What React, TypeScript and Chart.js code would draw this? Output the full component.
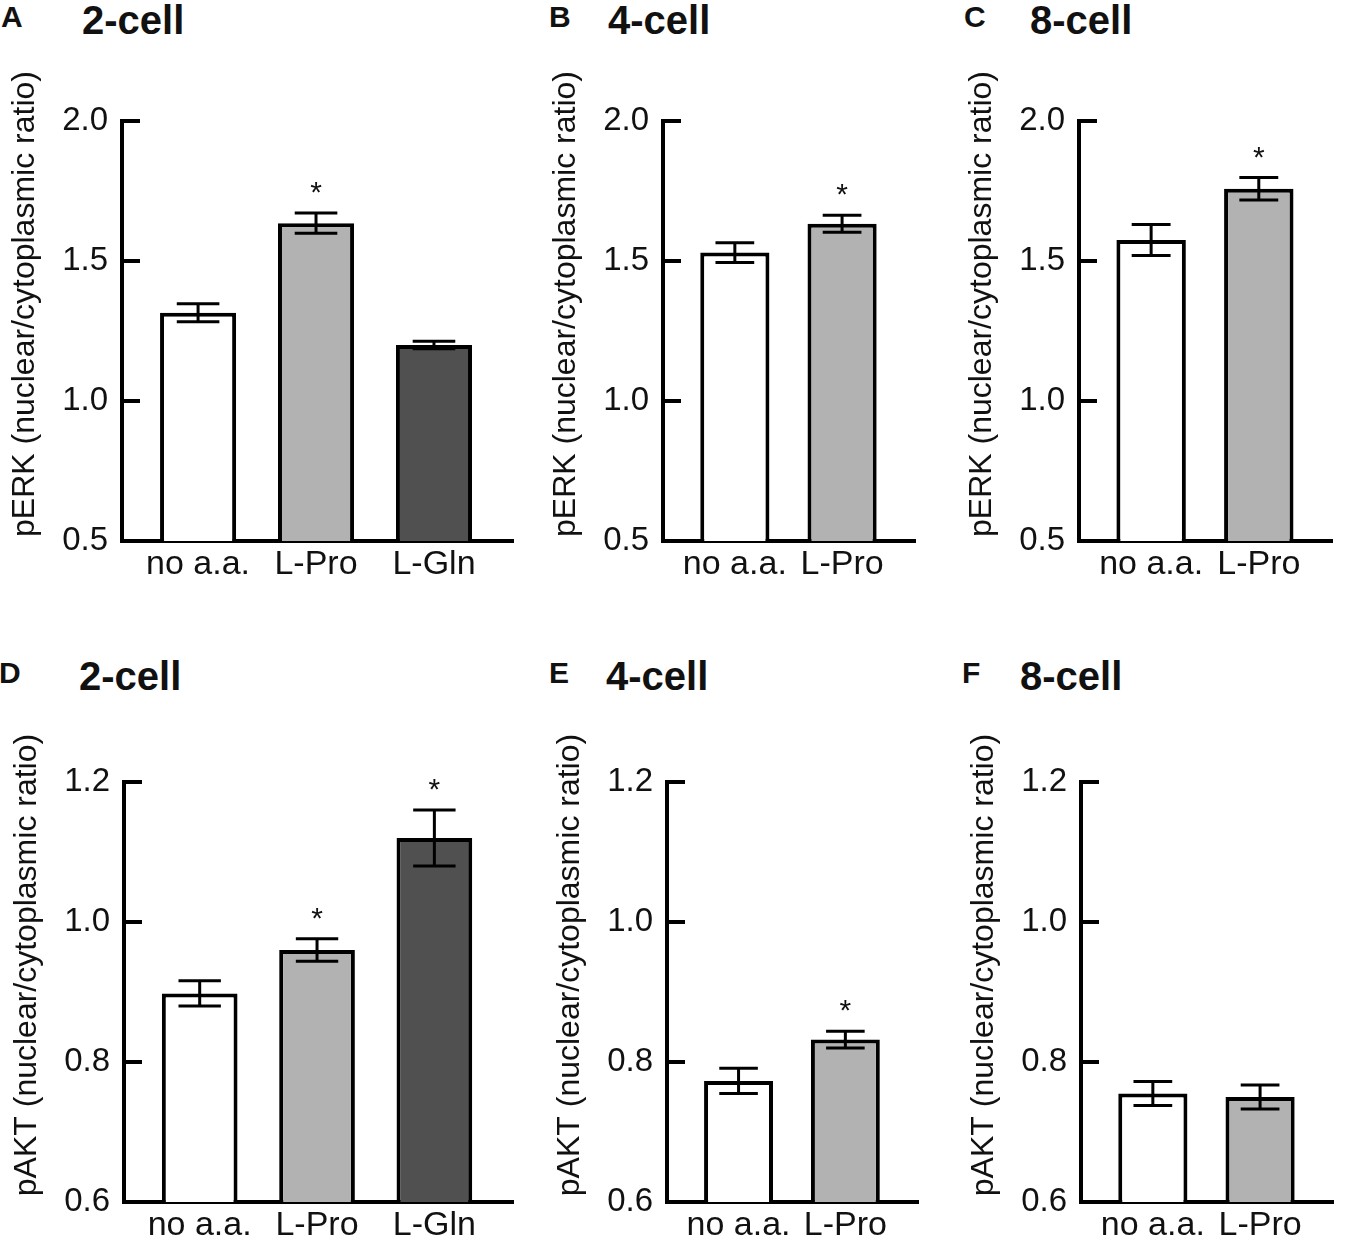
import React, { useEffect, useRef } from "react";
import { Chart, registerables } from "chart.js";

Chart.register(...registerables);
Chart.defaults.font.family = '"Liberation Sans", Arial, sans-serif';

// categories and colours
const categories3 = ["no a.a.", "L-Pro", "L-Gln"];
const categories2 = ["no a.a.", "L-Pro"];
const barColors = ["#ffffff", "#b2b2b2", "#505050"];

// y tick values
const erkTicks = [0.5, 1.0, 1.5, 2.0];
const aktTicks = [0.6, 0.8, 1.0, 1.2];

// pERK, mean / sem / significance
const erk2Mean = [1.315, 1.635, 1.2];
const erk2Sem = [0.032, 0.036, 0.013];
const erk2Sig = [false, true, false];
const erk4Mean = [1.53, 1.633];
const erk4Sem = [0.035, 0.03];
const erk4Sig = [false, true];
const erk8Mean = [1.575, 1.758];
const erk8Sem = [0.055, 0.04];
const erk8Sig = [false, true];

// pAKT, mean / sem / significance
const akt2Mean = [0.898, 0.96, 1.12];
const akt2Sem = [0.018, 0.016, 0.04];
const akt2Sig = [false, true, true];
const akt4Mean = [0.773, 0.832];
const akt4Sem = [0.018, 0.012];
const akt4Sig = [false, true];
const akt8Mean = [0.755, 0.75];
const akt8Sem = [0.017, 0.017];
const akt8Sig = [false, false];

const FONT = '"Liberation Sans", Arial, sans-serif';

type Panel = {
  letter: string;
  title: string;
  yLabel: string;
  categories: string[];
  mean: number[];
  sem: number[];
  sig: boolean[];
  ticks: number[];
  left: number;
  top: number;
  width: number;
  height: number;
  padTop: number;
  letterX: number;
  titleX: number;
  headTop: number;
};

const row1 = { top: 0, height: 609, padTop: 121, headTop: 0 };
const row2 = { top: 660, height: 610, padTop: 122, headTop: 656 };

const panels: Panel[] = [
  { letter: "A", title: "2-cell", yLabel: "pERK (nuclear/cytoplasmic ratio)", categories: categories3, mean: erk2Mean, sem: erk2Sem, sig: erk2Sig, ticks: erkTicks, left: 0, width: 521, letterX: 1, titleX: 82, ...row1 },
  { letter: "B", title: "4-cell", yLabel: "pERK (nuclear/cytoplasmic ratio)", categories: categories2, mean: erk4Mean, sem: erk4Sem, sig: erk4Sig, ticks: erkTicks, left: 541, width: 382, letterX: 549, titleX: 608, ...row1 },
  { letter: "C", title: "8-cell", yLabel: "pERK (nuclear/cytoplasmic ratio)", categories: categories2, mean: erk8Mean, sem: erk8Sem, sig: erk8Sig, ticks: erkTicks, left: 957, width: 383, letterX: 964, titleX: 1030, ...row1 },
  { letter: "D", title: "2-cell", yLabel: "pAKT (nuclear/cytoplasmic ratio)", categories: categories3, mean: akt2Mean, sem: akt2Sem, sig: akt2Sig, ticks: aktTicks, left: 2, width: 519, letterX: -1, titleX: 79, ...row2 },
  { letter: "E", title: "4-cell", yLabel: "pAKT (nuclear/cytoplasmic ratio)", categories: categories2, mean: akt4Mean, sem: akt4Sem, sig: akt4Sig, ticks: aktTicks, left: 545, width: 381, letterX: 549, titleX: 606, ...row2 },
  { letter: "F", title: "8-cell", yLabel: "pAKT (nuclear/cytoplasmic ratio)", categories: categories2, mean: akt8Mean, sem: akt8Sem, sig: akt8Sig, ticks: aktTicks, left: 959, width: 382, letterX: 962, titleX: 1020, ...row2 },
];

// error bars, asterisks, inward y ticks and the y title
function decor(p: Panel) {
  return {
    id: "decor",
    afterDatasetsDraw(chart: any) {
      const { ctx } = chart;
      const y = chart.scales.y;
      const bars = chart.getDatasetMeta(0).data;
      ctx.save();
      ctx.strokeStyle = "#000";
      ctx.fillStyle = "#111";
      ctx.lineWidth = 3;
      bars.forEach((bar: any, i: number) => {
        const { x, width } = bar.getProps(["x", "width"], true);
        const hi = y.getPixelForValue(p.mean[i] + p.sem[i]);
        const lo = y.getPixelForValue(p.mean[i] - p.sem[i]);
        const cap = width * 0.28;
        ctx.beginPath();
        ctx.moveTo(x, hi);
        ctx.lineTo(x, lo);
        ctx.moveTo(x - cap, hi);
        ctx.lineTo(x + cap, hi);
        ctx.moveTo(x - cap, lo);
        ctx.lineTo(x + cap, lo);
        ctx.stroke();
        if (p.sig[i]) {
          ctx.font = `30px ${FONT}`;
          ctx.textAlign = "center";
          ctx.textBaseline = "alphabetic";
          ctx.fillText("*", x, hi - 11);
        }
      });
      ctx.restore();
    },
    afterDraw(chart: any) {
      const { ctx, chartArea } = chart;
      const y = chart.scales.y;
      ctx.save();
      ctx.strokeStyle = "#000";
      ctx.lineWidth = 4;
      y.ticks.forEach((t: any) => {
        const py = y.getPixelForValue(t.value);
        ctx.beginPath();
        ctx.moveTo(chartArea.left, py);
        ctx.lineTo(chartArea.left + 18, py);
        ctx.stroke();
      });
      ctx.translate(chartArea.left - 97, (chartArea.top + chartArea.bottom) / 2 - 27);
      ctx.rotate(-Math.PI / 2);
      ctx.font = `32px ${FONT}`;
      ctx.fillStyle = "#111";
      ctx.textAlign = "center";
      ctx.textBaseline = "middle";
      ctx.fillText(p.yLabel, 0, 0);
      ctx.restore();
    },
  };
}

function PanelChart({ p }: { p: Panel }) {
  const chartRef = useRef<HTMLCanvasElement | null>(null);

  useEffect(() => {
    if (!chartRef.current) return;
    const n = p.mean.length;
    const chart = new Chart(chartRef.current, {
      type: "bar",
      data: {
        datasets: [
          {
            data: p.mean.map((v, i) => ({ x: i, y: v })),
            backgroundColor: barColors.slice(0, n),
            borderColor: "#000",
            borderWidth: 4,
            borderSkipped: false,
            barPercentage: 0.645,
            categoryPercentage: 1,
          },
        ],
      },
      options: {
        responsive: false,
        animation: false,
        layout: { padding: { top: p.padTop, right: 8, bottom: 8, left: 0 } },
        plugins: { legend: { display: false }, tooltip: { enabled: false } },
        scales: {
          x: {
            type: "linear",
            offset: false,
            min: n === 3 ? -0.645 : -0.67,
            max: n === 3 ? 2.67 : 1.68,
            afterBuildTicks: (axis: any) => {
              axis.ticks = p.categories.map((_, i) => ({ value: i }));
            },
            afterFit: (axis: any) => {
              axis.height = 60;
            },
            ticks: {
              autoSkip: false,
              maxRotation: 0,
              minRotation: 0,
              padding: 3,
              color: "#111",
              font: { size: 34 },
              callback: (v: any) => p.categories[v] ?? "",
            },
            grid: { offset: false, drawOnChartArea: false, drawTicks: false },
            border: { color: "#000", width: 4 },
          },
          y: {
            type: "linear",
            min: p.ticks[0],
            max: p.ticks[p.ticks.length - 1],
            afterBuildTicks: (axis: any) => {
              axis.ticks = p.ticks.map((v) => ({ value: v }));
            },
            afterFit: (axis: any) => {
              axis.width = 122;
            },
            ticks: {
              padding: 14,
              color: "#111",
              font: { size: 33 },
              callback: (v: any) => Number(v).toFixed(1),
            },
            grid: { drawOnChartArea: false, drawTicks: false },
            border: { color: "#000", width: 4 },
          },
        },
      },
      plugins: [decor(p)],
    } as any);
    return () => chart.destroy();
  }, [p]);

  return (
    <>
      <div
        style={{
          position: "absolute",
          left: p.letterX,
          top: p.headTop + 2,
          fontFamily: FONT,
          fontWeight: "bold",
          fontSize: 30,
          lineHeight: 1,
          color: "#111",
        }}
      >
        {p.letter}
      </div>
      <div
        style={{
          position: "absolute",
          left: p.titleX,
          top: p.headTop,
          fontFamily: FONT,
          fontWeight: "bold",
          fontSize: 40,
          lineHeight: 1,
          color: "#111",
        }}
      >
        {p.title}
      </div>
      <canvas
        ref={chartRef}
        width={p.width}
        height={p.height}
        style={{ position: "absolute", left: p.left, top: p.top }}
      ></canvas>
    </>
  );
}

export default function App() {
  return (
    <div
      style={{
        position: "absolute",
        left: 0,
        top: 0,
        width: 1350,
        height: 1250,
        background: "#fff",
        overflow: "hidden",
      }}
    >
      {panels.map((p) => (
        <PanelChart key={p.letter} p={p} />
      ))}
    </div>
  );
}
